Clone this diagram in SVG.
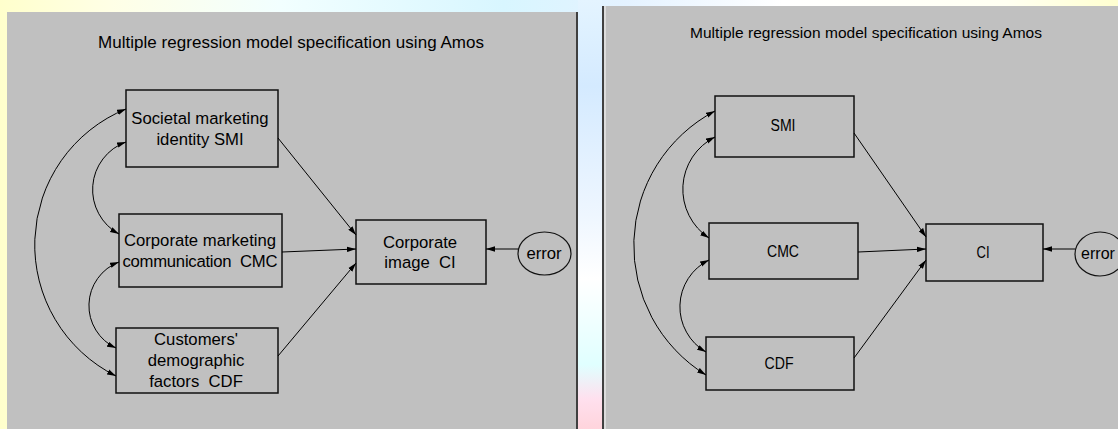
<svg xmlns="http://www.w3.org/2000/svg" width="1118" height="429" viewBox="0 0 1118 429">
<style>
.bx{fill:#C0C0C0;stroke:#111;stroke-width:1.5}
.t{font-family:"Liberation Sans",Arial,sans-serif;fill:#000;text-anchor:middle;white-space:pre}
.L{font-size:16.7px}
.R{font-size:16px}
.ln{fill:none;stroke:#000;stroke-width:1}
.one{marker-end:url(#ah)}
.two{marker-start:url(#ah);marker-end:url(#ah)}
.err{fill:#C0C0C0;stroke:#111;stroke-width:1.2}
</style>
<defs>
<linearGradient id="bg" x1="0" y1="0" x2="1" y2="0">
<stop offset="0" stop-color="#FFFFCC"/>
<stop offset="0.1" stop-color="#FFFFE6"/>
<stop offset="0.25" stop-color="#F2FFFF"/>
<stop offset="0.45" stop-color="#D8F6FF"/>
<stop offset="0.56" stop-color="#E4F2FF"/>
<stop offset="0.7" stop-color="#FFFFFF"/>
<stop offset="0.9" stop-color="#FFFFF2"/>
<stop offset="1" stop-color="#FFFFD0"/>
</linearGradient>
<linearGradient id="gap" x1="0" y1="0" x2="0" y2="1">
<stop offset="0" stop-color="#E4F4FF"/>
<stop offset="0.2" stop-color="#D4EAFF"/>
<stop offset="0.5" stop-color="#EEF6FF"/>
<stop offset="0.65" stop-color="#FFFFFF"/>
<stop offset="0.85" stop-color="#E0FFFF"/>
<stop offset="0.93" stop-color="#FFE0EE"/>
<stop offset="1" stop-color="#FFD4DC"/>
</linearGradient>
<marker id="ah" viewBox="0 0 10 6" markerWidth="9" markerHeight="6" refX="10" refY="3" orient="auto-start-reverse" markerUnits="userSpaceOnUse">
<path d="M0,0 L10,3 L0,6 z" fill="#000"/>
</marker>
</defs>

<rect x="0" y="0" width="1118" height="429" fill="url(#bg)"/>
<rect x="578" y="0" width="24" height="429" fill="url(#gap)"/>

<!-- left panel -->
<rect x="7" y="12" width="570" height="417" fill="#C0C0C0"/>
<line x1="577" y1="12" x2="577" y2="429" stroke="#404040" stroke-width="2"/>
<!-- right panel -->
<rect x="602" y="6" width="516" height="423" fill="#C0C0C0"/>
<line x1="603" y1="6" x2="603" y2="429" stroke="#404040" stroke-width="2"/>
<line x1="605" y1="6" x2="605" y2="429" stroke="#DCDCDC" stroke-width="2"/>

<text class="t" x="291" y="48" font-size="17" textLength="386">Multiple regression model specification using Amos</text>
<text class="t" x="866" y="37.5" font-size="15.5" textLength="352">Multiple regression model specification using Amos</text>

<!-- left nodes -->
<g id="L-SMI">
<rect class="bx" x="126" y="90" width="152" height="77"/>
<text class="t L" x="200" y="123.5">Societal marketing</text>
<text class="t L" x="200" y="145">identity SMI</text>
</g>
<g id="L-CMC">
<rect class="bx" x="119" y="214" width="163" height="73"/>
<text class="t L" x="200" y="246">Corporate marketing</text>
<text class="t L" x="200" y="267" textLength="155">communication  CMC</text>
</g>
<g id="L-CDF">
<rect class="bx" x="116" y="328" width="162" height="65"/>
<text class="t L" x="196" y="345">Customers'</text>
<text class="t L" x="196" y="366">demographic</text>
<text class="t L" x="196" y="387">factors  CDF</text>
</g>
<g id="L-CI">
<rect class="bx" x="356" y="220" width="130" height="64"/>
<text class="t L" x="420" y="247.5">Corporate</text>
<text class="t L" x="420" y="268">image  CI</text>
</g>
<g id="L-error">
<ellipse class="err" cx="544.5" cy="253.5" rx="26.5" ry="21.5"/>
<text class="t L" x="544" y="258.5">error</text>
</g>

<!-- right nodes -->
<g id="R-SMI">
<rect class="bx" x="715" y="96" width="139" height="61"/>
<text class="t R" x="783" y="131" textLength="25" lengthAdjust="spacingAndGlyphs">SMI</text>
</g>
<g id="R-CMC">
<rect class="bx" x="709" y="223" width="149" height="56"/>
<text class="t R" x="783" y="257" textLength="32" lengthAdjust="spacingAndGlyphs">CMC</text>
</g>
<g id="R-CDF">
<rect class="bx" x="706" y="337" width="148" height="53"/>
<text class="t R" x="779" y="369" textLength="29" lengthAdjust="spacingAndGlyphs">CDF</text>
</g>
<g id="R-CI">
<rect class="bx" x="926" y="224" width="117" height="57"/>
<text class="t R" x="983" y="258" textLength="13" lengthAdjust="spacingAndGlyphs">CI</text>
</g>
<g id="R-error">
<ellipse class="err" cx="1100" cy="254" rx="25" ry="22"/>
<text class="t" x="1098" y="259" font-size="16">error</text>
</g>

<!-- connectors -->
<g id="connectors">
<path class="ln two" d="M126,142 A50.6,50.6 0 0 0 119,234"/>
<path class="ln two" d="M119,262 A46.7,46.7 0 0 0 116,348"/>
<path class="ln two" d="M126,109 A146.6,146.6 0 0 0 116,376"/>
<path class="ln one" d="M278,138 L356,235"/>
<path class="ln one" d="M282,252 L356,249"/>
<path class="ln one" d="M278,356 L356,263"/>
<path class="ln one" d="M518,249 L486,249"/>

<path class="ln two" d="M715,137 A58.5,58.5 0 0 0 709,238"/>
<path class="ln two" d="M709,260 A52.2,52.2 0 0 0 706,352"/>
<path class="ln two" d="M715,111 A152.1,152.1 0 0 0 706,375"/>
<path class="ln one" d="M854,133 L926,237"/>
<path class="ln one" d="M858,252 L926,249"/>
<path class="ln one" d="M854,358 L926,260"/>
<path class="ln one" d="M1075,249 L1043,249"/>
</g>
</svg>
